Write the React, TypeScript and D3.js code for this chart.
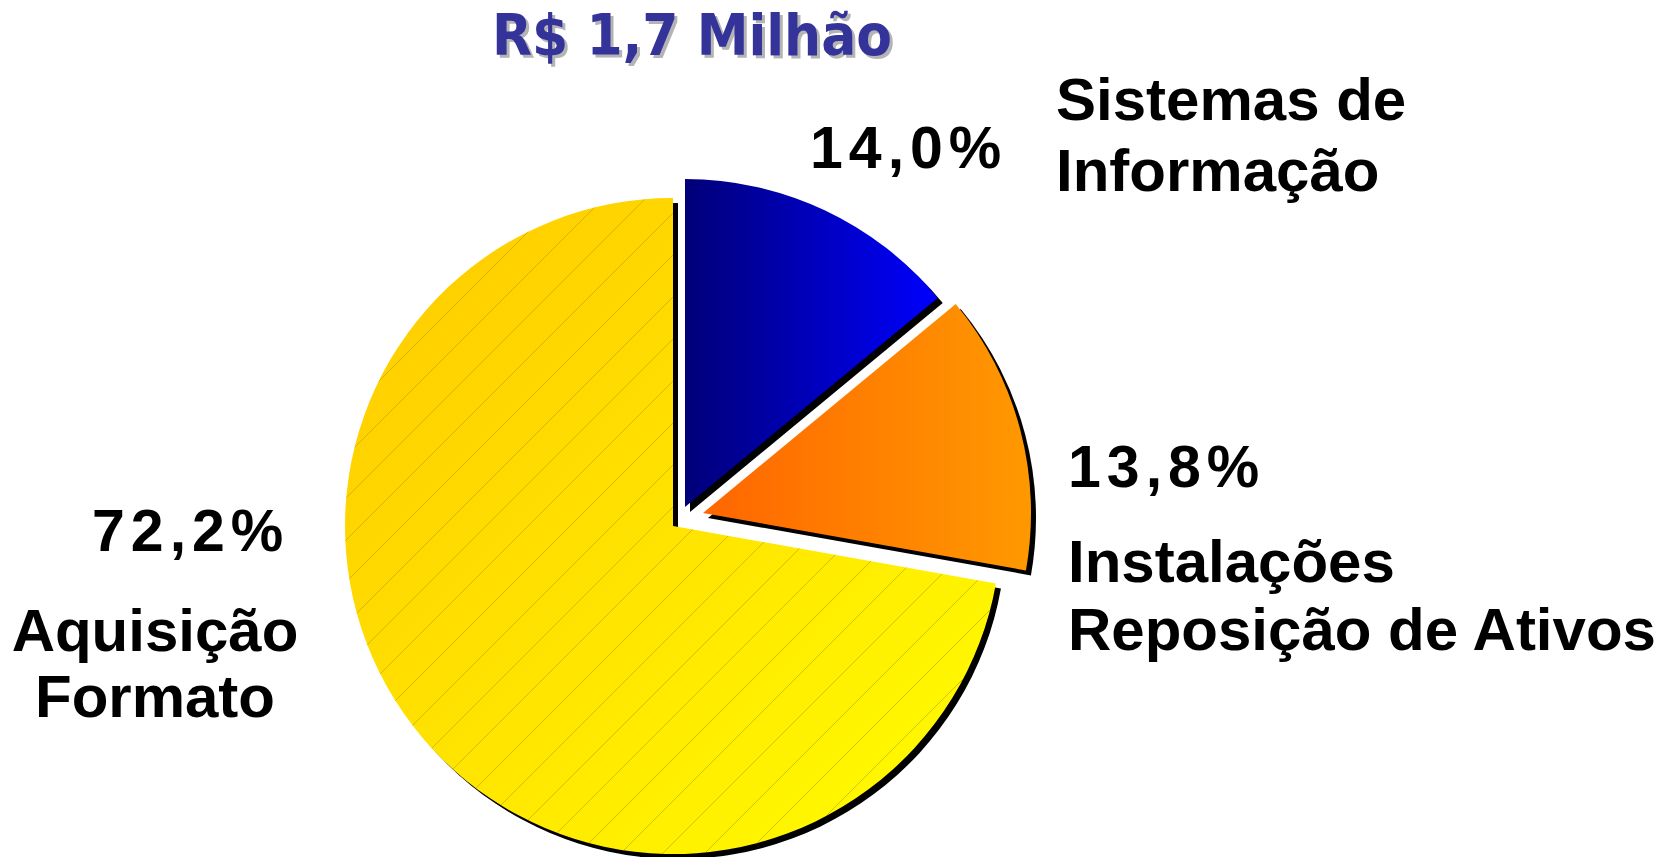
import React, { useMemo } from 'react';
import * as d3 from 'd3';

// data
const title = 'R$ 1,7 Milhão';
const categories = ['Sistemas de Informação', 'Instalações Reposição de Ativos', 'Aquisição Formato'];
const shares = [14.0, 13.8, 72.2];
const shareLabels = ['14,0%', '13,8%', '72,2%'];
const nameLines = [['Sistemas de', 'Informação'], ['Instalações', 'Reposição de Ativos'], ['Aquisição', 'Formato']];

// layout
const W = 1676;
const H = 857;
const cx = 673;
const cy = 526;
const radius = 328;
const explodeOffsets = [[12, -19], [30, -13], [0, 0]];
const shadow = 5;
const gradIds = ['grad-blue', 'grad-orange', 'grad-yellow'];
// [x, baseline, anchor] for the percent, then for the first name line
const pctPos: [number, number, string][] = [[810, 168, 'start'], [1068, 487, 'start'], [92, 551, 'start']];
const namePos: [number, number, string][] = [[1056, 120, 'start'], [1068, 582, 'start'], [155, 651, 'middle']];
const lineGaps = [71, 68, 66];

const labelFont = "'Liberation Sans', Arial, sans-serif";

export default function App() {
  const arcs = useMemo(() => d3.pie<number>().sort(null).value(d => d)(shares), []);
  const arcGen = d3.arc<d3.PieArcDatum<number>>().innerRadius(0).outerRadius(radius);

  return (
    <svg width={W} height={H} style={{ position: 'absolute', left: 0, top: 0, background: '#fff' }}>
      <defs>
        <linearGradient id='grad-blue' x1='0' y1='0' x2='1' y2='0'>
          <stop offset='0' stopColor='#000078' />
          <stop offset='1' stopColor='#0000FF' />
        </linearGradient>
        <linearGradient id='grad-orange' x1='0' y1='0' x2='1' y2='0'>
          <stop offset='0' stopColor='#FF6600' />
          <stop offset='1' stopColor='#FF9900' />
        </linearGradient>
        <linearGradient id='grad-yellow' x1='0' y1='0' x2='1' y2='1'>
          <stop offset='0' stopColor='#FFC800' />
          <stop offset='1' stopColor='#FFFF00' />
        </linearGradient>
        <pattern id='hatch' patternUnits='userSpaceOnUse' width={42} height={42} x={cx} y={cy}>
          <path d='M0,42 L42,0 M-4,4 L4,-4 M38,46 L46,38' stroke='#B89800' strokeOpacity={0.55} strokeWidth={1} />
        </pattern>
      </defs>

      {/* title */}
      <g fontFamily="'DejaVu Sans', Verdana, sans-serif" fontWeight='bold' fontSize={57}>
        <text x={495} y={58} fill='#B4B4B4' textLength={400} lengthAdjust='spacingAndGlyphs'>{title}</text>
        <text x={492} y={55} fill='#333399' textLength={400} lengthAdjust='spacingAndGlyphs'>{title}</text>
      </g>

      {/* shadows */}
      {arcs.map((a, i) => (
        <path
          key={'s' + categories[i]}
          d={arcGen(a) || ''}
          transform={`translate(${cx + explodeOffsets[i][0] + shadow},${cy + explodeOffsets[i][1] + shadow})`}
          fill='#000'
        />
      ))}

      {/* slices */}
      {arcs.map((a, i) => (
        <g key={categories[i]} transform={`translate(${cx + explodeOffsets[i][0]},${cy + explodeOffsets[i][1]})`}>
          <path d={arcGen(a) || ''} fill={`url(#${gradIds[i]})`} />
          {i === 2 && <path d={arcGen(a) || ''} fill='url(#hatch)' />}
        </g>
      ))}

      {/* labels */}
      <g fontFamily={labelFont} fontWeight='bold' fontSize={60} fill='#000'>
        {shareLabels.map((t, i) => (
          <text key={t} x={pctPos[i][0]} y={pctPos[i][1]} textAnchor={pctPos[i][2]} fontSize={59} letterSpacing={6}>{t}</text>
        ))}
        {nameLines.map((lines, i) => lines.map((l, j) => (
          <text key={l} x={namePos[i][0]} y={namePos[i][1] + j * lineGaps[i]} textAnchor={namePos[i][2]}>{l}</text>
        )))}
      </g>
    </svg>
  );
}
